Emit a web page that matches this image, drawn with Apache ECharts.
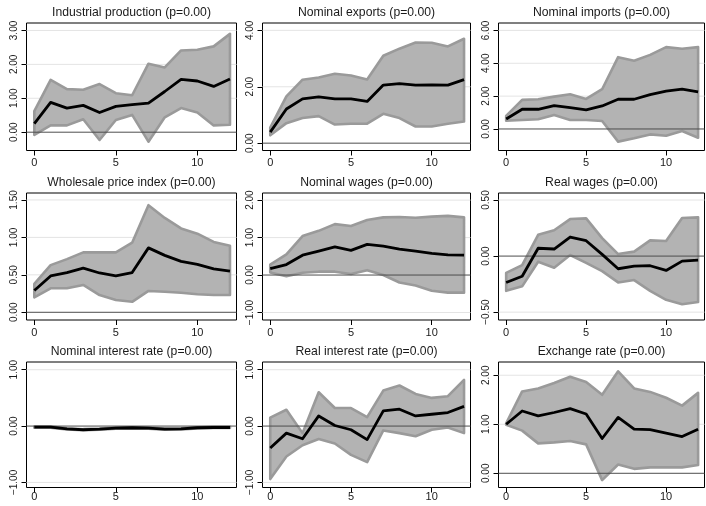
<!DOCTYPE html>
<html>
<head>
<meta charset="utf-8">
<script src="https://cdn.jsdelivr.net/npm/echarts@6/dist/echarts.min.js"></script>
<style>
  html, body { margin: 0; padding: 0; background: #fff; }
  #chart { width: 706px; height: 506px; }
</style>
</head>
<body>
<div id="chart"></div>
<script>
// Impulse responses over a 12-period horizon, with confidence bands.
const horizons = [0, 1, 2, 3, 4, 5, 6, 7, 8, 9, 10, 11, 12];
const xTickValues = [0, 5, 10];

const panelTitles = [
  'Industrial production (p=0.00)',
  'Nominal exports (p=0.00)',
  'Nominal imports (p=0.00)',
  'Wholesale price index (p=0.00)',
  'Nominal wages (p=0.00)',
  'Real wages (p=0.00)',
  'Nominal interest rate (p=0.00)',
  'Real interest rate (p=0.00)',
  'Exchange rate (p=0.00)'
];

// Industrial production
const ipIrf   = [0.25, 0.88, 0.71, 0.79, 0.58, 0.76, 0.81, 0.86, 1.20, 1.56, 1.51, 1.35, 1.57];
const ipUpper = [0.62, 1.54, 1.27, 1.25, 1.42, 1.15, 1.09, 2.02, 1.91, 2.41, 2.43, 2.53, 2.90];
const ipLower = [-0.08, 0.20, 0.20, 0.38, -0.23, 0.36, 0.51, -0.28, 0.44, 0.71, 0.58, 0.20, 0.22];
const ipTicks = [0, 1, 2, 3];

// Nominal exports
const exIrf   = [0.39, 1.21, 1.57, 1.64, 1.57, 1.57, 1.48, 2.06, 2.11, 2.06, 2.07, 2.06, 2.25];
const exUpper = [0.55, 1.66, 2.25, 2.33, 2.46, 2.40, 2.26, 3.10, 3.35, 3.57, 3.56, 3.43, 3.70];
const exLower = [0.28, 0.71, 0.89, 0.96, 0.66, 0.69, 0.69, 1.04, 0.89, 0.59, 0.59, 0.69, 0.77];
const exTicks = [0, 2, 4];

// Nominal imports
const imIrf   = [0.61, 1.20, 1.20, 1.42, 1.30, 1.16, 1.40, 1.81, 1.81, 2.09, 2.30, 2.42, 2.26];
const imUpper = [0.80, 1.77, 1.81, 1.97, 2.11, 1.83, 2.42, 4.37, 4.15, 4.51, 4.98, 4.88, 4.98];
const imLower = [0.51, 0.55, 0.59, 0.85, 0.55, 0.55, 0.49, -0.77, -0.57, -0.33, -0.41, -0.12, -0.53];
const imTicks = [0, 2, 4, 6];

// Wholesale price index
const wpIrf   = [0.29, 0.485, 0.53, 0.59, 0.525, 0.485, 0.53, 0.86, 0.76, 0.68, 0.64, 0.58, 0.55];
const wpUpper = [0.38, 0.63, 0.71, 0.80, 0.80, 0.80, 0.93, 1.43, 1.26, 1.12, 1.05, 0.94, 0.89];
const wpLower = [0.20, 0.32, 0.32, 0.365, 0.23, 0.165, 0.14, 0.285, 0.275, 0.26, 0.24, 0.23, 0.23];
const wpTicks = [0, 0.5, 1, 1.5];

// Nominal wages
const nwIrf   = [0.17, 0.28, 0.53, 0.64, 0.75, 0.66, 0.82, 0.77, 0.69, 0.64, 0.58, 0.54, 0.53];
const nwUpper = [0.28, 0.55, 1.04, 1.18, 1.36, 1.31, 1.47, 1.54, 1.55, 1.53, 1.56, 1.58, 1.54];
const nwLower = [0.07, -0.03, 0.06, 0.09, 0.09, 0.03, 0.13, 0.00, -0.20, -0.28, -0.42, -0.47, -0.47];
const nwTicks = [-1, 0, 1, 2];

// Real wages
const rwIrf   = [-0.235, -0.18, 0.07, 0.063, 0.17, 0.137, 0.015, -0.113, -0.09, -0.086, -0.128, -0.045, -0.036];
const rwUpper = [-0.15, -0.08, 0.19, 0.23, 0.33, 0.336, 0.16, 0.018, 0.04, 0.14, 0.134, 0.34, 0.345];
const rwLower = [-0.31, -0.27, -0.05, -0.104, 0.01, -0.06, -0.134, -0.235, -0.214, -0.31, -0.39, -0.43, -0.41];
const rwTicks = [-0.5, 0, 0.5];

// Nominal interest rate
const niIrf   = [-0.02, -0.02, -0.05, -0.065, -0.055, -0.035, -0.03, -0.035, -0.055, -0.05, -0.03, -0.025, -0.025];
const niUpper = [-0.01, -0.01, -0.04, -0.055, -0.045, -0.025, -0.02, -0.025, -0.045, -0.04, -0.02, -0.015, -0.015];
const niLower = [-0.03, -0.03, -0.06, -0.075, -0.065, -0.045, -0.04, -0.045, -0.065, -0.06, -0.04, -0.035, -0.035];
const niTicks = [-1, 0, 1];

// Real interest rate
const riIrf   = [-0.39, -0.125, -0.225, 0.18, 0.01, -0.065, -0.24, 0.27, 0.30, 0.18, 0.21, 0.24, 0.35];
const riUpper = [0.15, 0.29, -0.125, 0.60, 0.32, 0.32, 0.16, 0.63, 0.72, 0.57, 0.50, 0.53, 0.82];
const riLower = [-0.94, -0.54, -0.34, -0.23, -0.31, -0.51, -0.64, -0.077, -0.125, -0.18, -0.065, -0.024, -0.125];
const riTicks = [-1, 0, 1];

// Exchange rate
const erIrf   = [1.00, 1.27, 1.17, 1.24, 1.32, 1.21, 0.71, 1.14, 0.90, 0.89, 0.82, 0.75, 0.90];
const erUpper = [1.02, 1.67, 1.73, 1.84, 1.97, 1.86, 1.60, 2.08, 1.73, 1.66, 1.54, 1.38, 1.64];
const erLower = [0.99, 0.87, 0.61, 0.63, 0.66, 0.59, -0.14, 0.18, 0.09, 0.12, 0.12, 0.12, 0.17];
const erTicks = [0, 1, 2];

// Series per panel, in reading order.
const panelSeries = [
  { irf: ipIrf, upper: ipUpper, lower: ipLower, ticks: ipTicks },
  { irf: exIrf, upper: exUpper, lower: exLower, ticks: exTicks },
  { irf: imIrf, upper: imUpper, lower: imLower, ticks: imTicks },
  { irf: wpIrf, upper: wpUpper, lower: wpLower, ticks: wpTicks },
  { irf: nwIrf, upper: nwUpper, lower: nwLower, ticks: nwTicks },
  { irf: rwIrf, upper: rwUpper, lower: rwLower, ticks: rwTicks },
  { irf: niIrf, upper: niUpper, lower: niLower, ticks: niTicks },
  { irf: riIrf, upper: riUpper, lower: riLower, ticks: riTicks },
  { irf: erIrf, upper: erUpper, lower: erLower, ticks: erTicks }
];

// Axis extents (value range covered by each plot frame).
const X_MIN = -0.48, X_MAX = 12.4;
const yExtents = [
  [-0.54, 3.22], [-0.26, 4.26], [-1.31, 6.45],
  [-0.103, 1.593], [-1.2, 2.19], [-0.57, 0.5625],
  [-1.09, 1.137], [-1.09, 1.137], [-0.29, 2.27]
];

// Frame layout in pixels.
const colLeft = [26.5, 262.5, 498.5];
const colWidth = [210, 208, 206];
const rowTop = [23, 193, 362];
const rowHeight = [127.5, 127, 125.5];
const rowLabelMargin = [7, 7, 4];

const FONT = '"Liberation Sans", Arial, Helvetica, sans-serif';
const TEXT_COLOR = '#1a1a1a';
const fmtY = v => (v < 0 ? '\u2212' : '') + Math.abs(v).toFixed(2);

const grids = [], xAxes = [], yAxes = [], series = [], texts = [];

panelSeries.forEach((p, i) => {
  const r = Math.floor(i / 3), c = i % 3;
  grids.push({
    left: colLeft[c], top: rowTop[r], width: colWidth[c], height: rowHeight[r],
    show: true, borderColor: '#000', borderWidth: 1, backgroundColor: 'transparent'
  });
  xAxes.push({
    type: 'value', gridIndex: i, min: X_MIN, max: X_MAX,
    axisLine: { show: false, onZero: false },
    axisTick: { show: true, length: 5, lineStyle: { color: '#000', width: 1 }, customValues: xTickValues },
    axisLabel: { show: true, margin: rowLabelMargin[r], fontSize: 11, color: TEXT_COLOR, fontFamily: FONT,
                 customValues: xTickValues, formatter: v => String(v) },
    splitLine: { show: false }
  });
  yAxes.push({
    type: 'value', gridIndex: i, min: yExtents[i][0], max: yExtents[i][1],
    axisLine: { show: false, onZero: false },
    axisTick: { show: true, length: 5, lineStyle: { color: '#000', width: 1 }, customValues: p.ticks },
    axisLabel: { show: true, rotate: 90, margin: 7, fontSize: 10, color: TEXT_COLOR, fontFamily: FONT,
                 customValues: p.ticks, formatter: fmtY },
    splitLine: { show: false }
  });

  // light grid lines at the labelled values (behind the band)
  p.ticks.filter(t => t !== 0).forEach(t => {
    series.push({
      type: 'line', xAxisIndex: i, yAxisIndex: i, z: 1, silent: true, symbol: 'none',
      data: [[X_MIN, t], [X_MAX, t]],
      lineStyle: { color: '#e4e4e4', width: 1 }
    });
  });

  // confidence band
  series.push({
    type: 'custom', xAxisIndex: i, yAxisIndex: i, z: 2, silent: true,
    data: [[horizons[0], p.irf[0]]],
    renderItem: (params, api) => {
      const pts = [];
      horizons.forEach((h, k) => pts.push(api.coord([h, p.upper[k]])));
      for (let k = horizons.length - 1; k >= 0; k--) pts.push(api.coord([horizons[k], p.lower[k]]));
      return {
        type: 'polygon',
        shape: { points: pts },
        style: { fill: '#b3b3b3', stroke: '#9a9a9a', lineWidth: 2.6, lineJoin: 'round' }
      };
    }
  });

  // zero reference line
  series.push({
    type: 'line', xAxisIndex: i, yAxisIndex: i, z: 3, silent: true, symbol: 'none',
    data: [[X_MIN, 0], [X_MAX, 0]],
    lineStyle: { color: '#4d4d4d', width: 1 }
  });

  // point estimate
  series.push({
    type: 'line', xAxisIndex: i, yAxisIndex: i, z: 4, silent: true, symbol: 'none',
    data: horizons.map((h, k) => [h, p.irf[k]]),
    lineStyle: { color: '#000', width: 2.8, join: 'round' }
  });

  texts.push({
    type: 'text',
    x: colLeft[c] + colWidth[c] / 2,
    y: rowTop[r] - 10,
    style: {
      text: panelTitles[i], fill: TEXT_COLOR, font: '12.2px ' + FONT,
      textAlign: 'center', textVerticalAlign: 'middle'
    }
  });
});

const chart = echarts.init(document.getElementById('chart'), null, { renderer: 'canvas' });
chart.setOption({
  animation: false,
  backgroundColor: '#fff',
  grid: grids,
  xAxis: xAxes,
  yAxis: yAxes,
  series: series,
  graphic: { elements: texts }
});
</script>
</body>
</html>
